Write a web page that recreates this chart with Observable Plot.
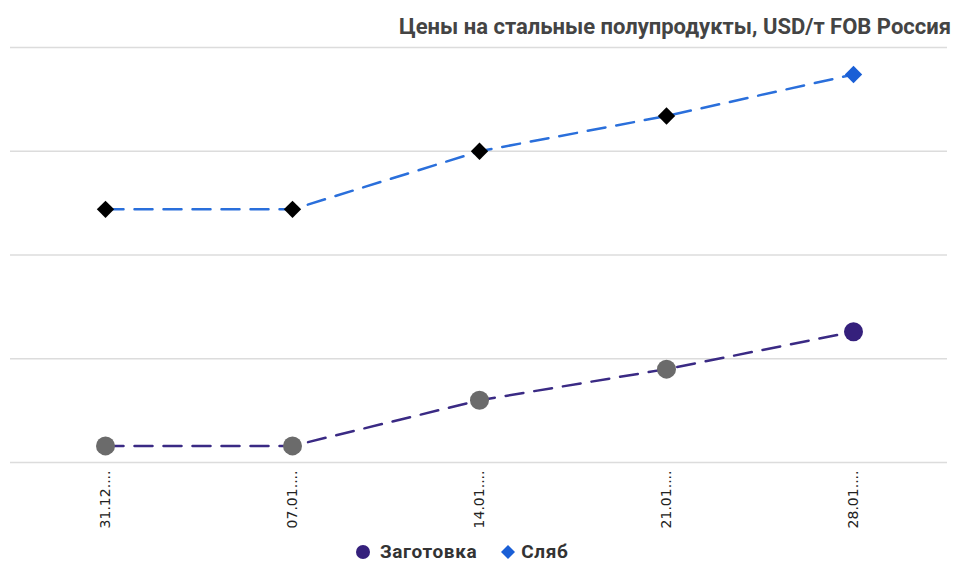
<!DOCTYPE html>
<html>
<head>
<meta charset="utf-8">
<script src="https://cdn.jsdelivr.net/npm/d3@7"></script>
<script src="https://cdn.jsdelivr.net/npm/@observablehq/plot@0.6"></script>
<style>
  html, body { margin: 0; padding: 0; background: #fff; }
  body { width: 955px; height: 562px; overflow: hidden; position: relative; font-family: Roboto, "Noto Sans", sans-serif; }
  #title { height: 40px; box-sizing: border-box; padding-top: 16px; padding-right: 4px; text-align: right;
           font-weight: 700; font-size: 22px; line-height: 22px; color: #444; white-space: nowrap; }
  #chart { height: 495px; }
  #legend { position: absolute; left: 356px; top: 542px; height: 19px; display: flex; align-items: center;
            font-weight: 700; font-size: 19px; line-height: 19px; letter-spacing: 0.6px; color: #333; }
  #legend .item { display: flex; align-items: center; }
  #legend .item + .item { margin-left: 24px; }
</style>
</head>
<body>
<div id="title">Цены на стальные полупродукты, USD/т FOB Россия</div>
<div id="chart"></div>
<div id="legend"></div>
<script>
const dates = ["31.12....", "07.01....", "14.01....", "21.01....", "28.01...."];
const billet = [508, 508, 530, 545, 563];
const slab = [622, 622, 650, 667, 687];
const gridValues = [500, 550, 600, 650, 700];
const seriesNames = ["Заготовка", "Сляб"];

const billetColor = "#35207c";
const slabColor = "#1a5fd6";
const billetLine = "#3a2a84";
const slabLine = "#2a6fdb";

const billetData = dates.map((d, i) => ({date: d, value: billet[i], i}));
const slabData = dates.map((d, i) => ({date: d, value: slab[i], i}));
const last = dates.length - 1;

const chart = Plot.plot({
  width: 955,
  height: 495,
  marginTop: 7,
  marginBottom: 73,
  marginLeft: 10,
  marginRight: 8,
  style: {fontFamily: "Roboto, 'Noto Sans', sans-serif", background: "transparent"},
  x: {type: "point", domain: dates, padding: 0.5, axis: null},
  y: {domain: [500, 700], axis: null},
  marks: [
    Plot.ruleY(gridValues, {stroke: "#dcdcdc", strokeWidth: 1.5}),
    Plot.axisX({tickRotate: -90, tickSize: 0, tickPadding: 8, fontSize: 14, fontFamily: "'DejaVu Sans', sans-serif", fill: "#222", textAnchor: "end", label: null}),
    Plot.line(billetData, {x: "date", y: "value", stroke: billetLine, strokeWidth: 2.5, strokeDasharray: "18,11"}),
    Plot.line(slabData, {x: "date", y: "value", stroke: slabLine, strokeWidth: 2.5, strokeDasharray: "18,11"}),
    Plot.dot(billetData, {x: "date", y: "value", r: 9.5, fill: d => d.i === last ? billetColor : "#6b6b6b", stroke: "none"}),
    Plot.dot(slabData, {x: "date", y: "value", symbol: "diamond2", r: 7.8, fill: d => d.i === last ? slabColor : "#000", stroke: "none"})
  ]
});
document.getElementById("chart").appendChild(chart);

const legend = document.getElementById("legend");
const symbols = [
  `<svg width="14" height="14" style="margin-right:10px"><circle cx="7" cy="7" r="7" fill="${billetColor}"/></svg>`,
  `<svg width="14" height="14" style="margin-right:6px"><path d="M7,0L14,7L7,14L0,7Z" fill="${slabColor}"/></svg>`
];
seriesNames.forEach((name, k) => {
  const item = document.createElement("div");
  item.className = "item";
  item.innerHTML = symbols[k] + `<span>${name}</span>`;
  legend.appendChild(item);
});
</script>
</body>
</html>
